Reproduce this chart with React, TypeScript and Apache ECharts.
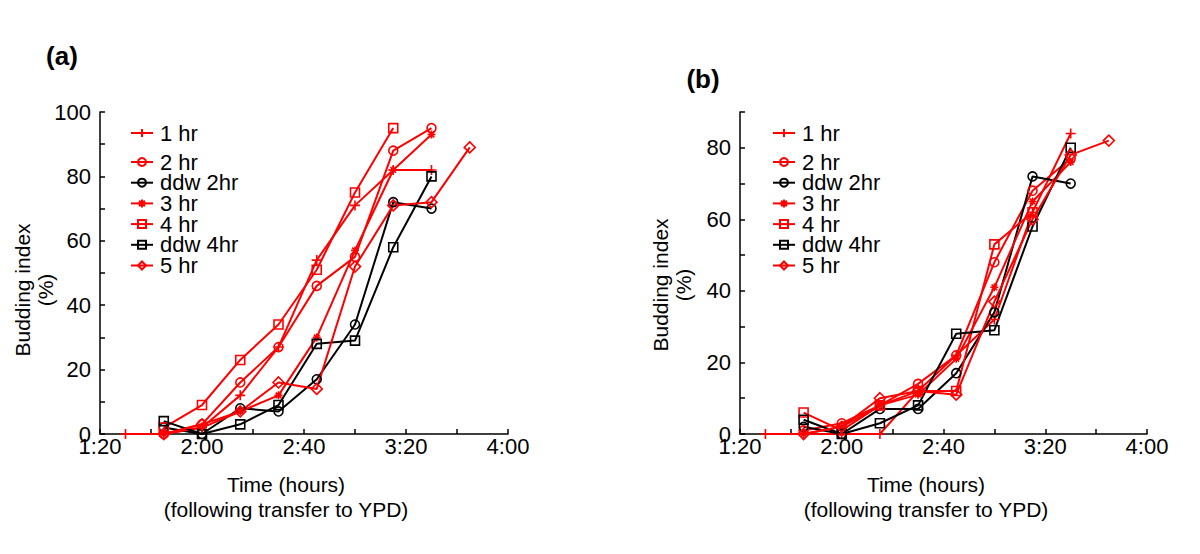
import React, { useEffect, useRef } from "react";
import * as echarts from "echarts";

// time points in minutes after transfer (1:30 ... 3:45)
const TIMES = [90, 105, 120, 135, 150, 165, 180, 195, 210, 225];

const SERIES_NAMES = ["1 hr", "2 hr", "ddw 2hr", "3 hr", "4 hr", "ddw 4hr", "5 hr"];

// Panel (a) budding index (%)
const A_1HR = [0, 0, 2, 12, 27, 54, 71, 82, 82, null];
const A_2HR = [null, 0, 3, 16, 27, 46, 55, 88, 95, null];
const A_DDW2 = [null, 2, 0, 8, 7, 17, 34, 72, 70, null];
const A_3HR = [null, 0, 2, 7, 12, 30, 57, 82, 93, null];
const A_4HR = [null, 2, 9, 23, 34, 51, 75, 95, null, null];
const A_DDW4 = [null, 4, 0, 3, 9, 28, 29, 58, 80, null];
const A_5HR = [null, 0, 3, 7, 16, 14, 52, 71, 72, 89];

// Panel (b) budding index (%)
const B_1HR = [0, 0, 0, 0, 12, 22, 32, 62, 84, null];
const B_2HR = [null, 1, 3, 8, 14, 22, 48, 68, 77, null];
const B_DDW2 = [null, 2, 0, 7, 7, 17, 34, 72, 70, null];
const B_3HR = [null, 0, 2, 8, 11, 21, 41, 65, 76, null];
const B_4HR = [null, 6, 1, 8, 12, 12, 53, 62, null, null];
const B_DDW4 = [null, 4, 0, 3, 8, 28, 29, 58, 80, null];
const B_5HR = [null, 0, 2, 10, 12, 11, 37, 60, 78, 82];

const X_MIN = 80;
const X_MAX = 240;
const X_STEP = 20;
const Y_MAX_A = 100;
const Y_MAX_B = 90;
const Y_STEP = 10;

const X_TITLE = "Time (hours)\n(following transfer to YPD)";
const Y_TITLE = "Budding index\n(%)";

const RED = "#ff0000";
const BLACK = "#000000";
const FONT = "'Liberation Sans', Arial, Helvetica, sans-serif";

const PLUS = "path://M5,0L5,10M0,5L10,5";
const STAR = "path://M5,0L5,10M0,5L10,5M1.5,1.5L8.5,8.5M8.5,1.5L1.5,8.5";

const STYLES: Record<string, { color: string; symbol: string; size: number }> = {
  "1 hr": { color: RED, symbol: PLUS, size: 10 },
  "2 hr": { color: RED, symbol: "circle", size: 9 },
  "ddw 2hr": { color: BLACK, symbol: "circle", size: 9 },
  "3 hr": { color: RED, symbol: STAR, size: 8 },
  "4 hr": { color: RED, symbol: "rect", size: 9 },
  "ddw 4hr": { color: BLACK, symbol: "rect", size: 9 },
  "5 hr": { color: RED, symbol: "diamond", size: 11 },
};

const PANEL_A = [A_1HR, A_2HR, A_DDW2, A_3HR, A_4HR, A_DDW4, A_5HR];
const PANEL_B = [B_1HR, B_2HR, B_DDW2, B_3HR, B_4HR, B_DDW4, B_5HR];

function fmtTime(v: number) {
  if (v % 40 !== 0) return "";
  const h = Math.floor(v / 60);
  const m = v % 60;
  return h + ":" + (m < 10 ? "0" + m : String(m));
}

function makeSeries(panel: number, values: (number | null)[][]) {
  return SERIES_NAMES.map((name, k) => {
    const st = STYLES[name];
    const data: [number, number][] = [];
    values[k].forEach((v, i) => {
      if (v !== null) data.push([TIMES[i], v]);
    });
    return {
      type: "line",
      name,
      xAxisIndex: panel,
      yAxisIndex: panel,
      data,
      symbol: st.symbol,
      symbolSize: st.size,
      showSymbol: true,
      lineStyle: { color: st.color, width: 2 },
      itemStyle: { color: "rgba(255,255,255,0)", borderColor: st.color, borderWidth: 1.6 },
      emphasis: { disabled: true },
      silent: true,
    };
  });
}

function xAxis(gridIndex: number) {
  return {
    type: "value",
    gridIndex,
    min: X_MIN,
    max: X_MAX,
    interval: X_STEP,
    axisLine: { show: true, lineStyle: { color: BLACK, width: 1.5 } },
    axisTick: { show: true, inside: true, length: 5, lineStyle: { color: BLACK, width: 1.5 } },
    axisLabel: {
      show: true,
      color: BLACK,
      fontSize: 22,
      fontFamily: FONT,
      margin: 3,
      lineHeight: 18,
      showMinLabel: true,
      showMaxLabel: true,
      formatter: (v: number) => fmtTime(v),
    },
    splitLine: { show: false },
  };
}

function yAxis(gridIndex: number, max: number) {
  return {
    type: "value",
    gridIndex,
    min: 0,
    max,
    interval: Y_STEP,
    axisLine: { show: true, lineStyle: { color: BLACK, width: 1.5 } },
    axisTick: { show: true, inside: true, length: 5, lineStyle: { color: BLACK, width: 1.5 } },
    axisLabel: {
      show: true,
      color: BLACK,
      fontSize: 22,
      fontFamily: FONT,
      margin: 9,
      lineHeight: 16,
      showMinLabel: true,
      showMaxLabel: true,
      formatter: (v: number) => (v % 20 === 0 ? String(v) : ""),
    },
    splitLine: { show: false },
  };
}

function legends(left: number) {
  const common = {
    orient: "vertical",
    left,
    padding: 0,
    itemWidth: 22,
    itemHeight: 10,
    itemGap: -1.3,
    selectedMode: false,
    textStyle: { color: BLACK, fontSize: 22, fontFamily: FONT, lineHeight: 20.5, padding: [0, 0, 0, 2] },
  };
  return [
    { ...common, top: 122, data: [SERIES_NAMES[0]] },
    { ...common, top: 151, data: SERIES_NAMES.slice(1) },
  ];
}

function textEl(x: number, y: number, text: string, opts: any = {}) {
  return {
    type: "text",
    x,
    y,
    rotation: opts.rotation || 0,
    style: {
      text,
      fill: BLACK,
      font: (opts.bold ? "bold " : "") + (opts.size || 21) + "px " + FONT,
      align: "center",
      verticalAlign: "middle",
      lineHeight: opts.lineHeight || 24,
    },
    silent: true,
  };
}

export default function App() {
  const ref = useRef<HTMLDivElement>(null);
  useEffect(() => {
    if (!ref.current) return;
    const chart = echarts.init(ref.current, undefined, { renderer: "svg" });
    chart.setOption({
      animation: false,
      backgroundColor: "#ffffff",
      grid: [
        { left: 100, top: 112, width: 408, height: 322 },
        { left: 740, top: 112, width: 407, height: 322 },
      ],
      xAxis: [xAxis(0), xAxis(1)],
      yAxis: [yAxis(0, Y_MAX_A), yAxis(1, Y_MAX_B)],
      legend: [...legends(130), ...legends(772)],
      series: [...makeSeries(0, PANEL_A), ...makeSeries(1, PANEL_B)],
      graphic: [
        textEl(62, 56, "(a)", { bold: true, size: 26 }),
        textEl(703, 79, "(b)", { bold: true, size: 26 }),
        textEl(286, 497, X_TITLE, { size: 21, lineHeight: 25 }),
        textEl(926, 497, X_TITLE, { size: 21, lineHeight: 25 }),
        textEl(34, 290, Y_TITLE, { size: 21, lineHeight: 23, rotation: Math.PI / 2 }),
        textEl(672, 285, Y_TITLE, { size: 21, lineHeight: 23, rotation: Math.PI / 2 }),
      ],
    });
    return () => chart.dispose();
  }, []);
  return (
    <div
      ref={ref}
      style={{ position: "absolute", left: 0, top: 0, width: 1200, height: 554 }}
    />
  );
}
